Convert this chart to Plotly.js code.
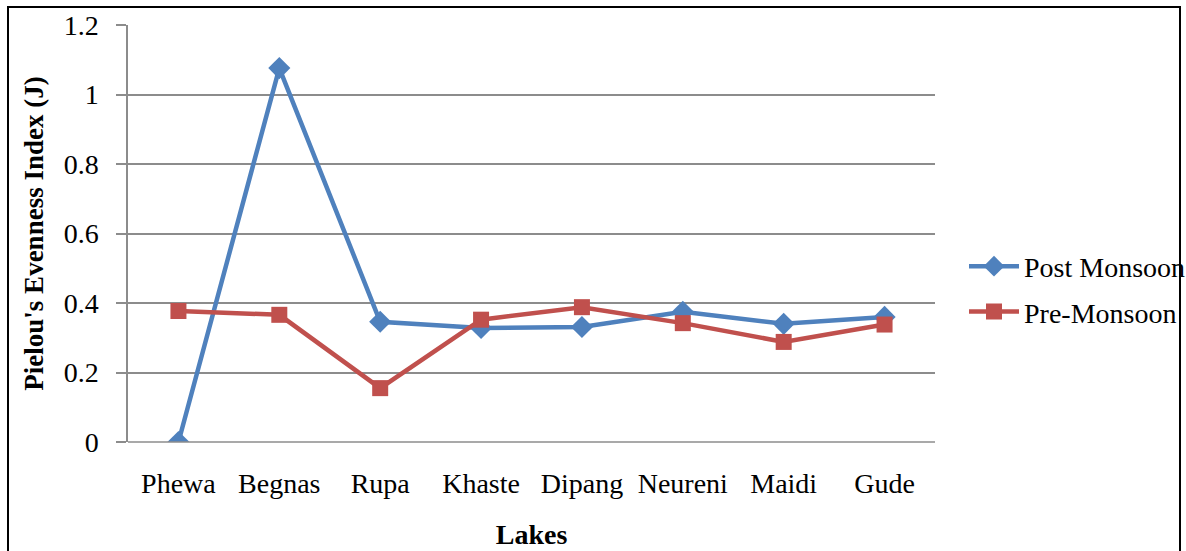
<!DOCTYPE html>
<html>
<head>
<meta charset="utf-8">
<script src="https://cdn.plot.ly/plotly-3.0.1.min.js"></script>
<style>
html,body{margin:0;padding:0;background:#fff;}
#chart{width:1186px;height:551px;}
</style>
</head>
<body>
<div id="chart"></div>
<script>
const lakes = ["Phewa","Begnas","Rupa","Khaste","Dipang","Neureni","Maidi","Gude"];
const postMonsoon = [0, 1.076, 0.346, 0.328, 0.331, 0.375, 0.340, 0.360];
const preMonsoon = [0.377, 0.366, 0.155, 0.352, 0.388, 0.342, 0.288, 0.338];
const yTicks = [0, 0.2, 0.4, 0.6, 0.8, 1, 1.2];
const yTickText = ["0", "0.2", "0.4", "0.6", "0.8", "1", "1.2"];

const font = "Liberation Serif, Times New Roman, serif";

const traces = [
  {
    x: lakes, y: postMonsoon, name: "Post Monsoon", type: "scatter", mode: "lines+markers",
    line: {color: "#4F81BD", width: 4.5},
    marker: {symbol: "diamond", size: 17, color: "#4F81BD"},
    legendgroup: "a"
  },
  {
    x: lakes, y: preMonsoon, name: "Pre-Monsoon", type: "scatter", mode: "lines+markers",
    line: {color: "#C0504D", width: 4.5},
    marker: {symbol: "square", size: 16, color: "#C0504D"},
    legendgroup: "b"
  }
];

const W = 807;
const H = 417;
const layout = {
  width: 1186, height: 551,
  margin: {l: 128, r: 251, t: 25, b: 109, autoexpand: false},
  paper_bgcolor: "#fff", plot_bgcolor: "#fff",
  font: {family: font, size: 28, color: "#000"},
  showlegend: true,
  legend: {
    x: (964 - 128) / W, y: (442 - 289) / H, xanchor: "left", yanchor: "middle",
    font: {family: font, size: 28, color: "#000"},
    bgcolor: "rgba(0,0,0,0)",
    traceorder: "grouped", tracegroupgap: 6,
    itemwidth: 50
  },
  xaxis: {
    type: "category",
    tickfont: {family: font, size: 28, color: "#000"},
    showgrid: false, showline: false, zeroline: false, ticks: "",
    ticklabelstandoff: 22,
    title: {text: "<b>Lakes</b>", font: {family: font, size: 28, color: "#000"}, standoff: 26},
    range: [-0.5, 7.5]
  },
  yaxis: {
    range: [0, 1.2],
    tickvals: yTicks, ticktext: yTickText,
    tickfont: {family: font, size: 28, color: "#000"},
    showgrid: true, gridcolor: "#8c8c8c", gridwidth: 1.5,
    showline: true, linecolor: "#8c8c8c", linewidth: 1.5,
    ticks: "outside", ticklen: 10, tickcolor: "#8c8c8c", tickwidth: 1.5,
    ticklabelstandoff: 12,
    zeroline: false,
    title: {text: "<b>Pielou's Evenness Index (J)</b>", font: {family: font, size: 27, color: "#000"}, standoff: 12}
  },
  shapes: [
    {type: "line", xref: "paper", yref: "paper", x0: 0, x1: 1, y0: 0, y1: 0, line: {color: "#8c8c8c", width: 1.5}},
    {type: "rect", xref: "paper", yref: "paper",
     x0: (8 - 128) / W, x1: (1180 - 128) / W, y0: (442 - 560) / H, y1: (442 - 7) / H,
     line: {color: "#000", width: 2}, fillcolor: "rgba(0,0,0,0)", layer: "below"}
  ]
};

Plotly.newPlot("chart", traces, layout, {displayModeBar: false});
</script>
</body>
</html>
